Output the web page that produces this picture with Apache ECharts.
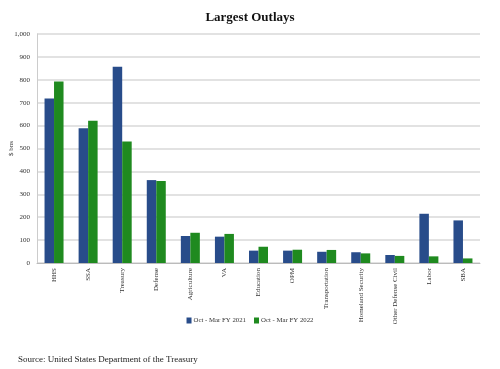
<!DOCTYPE html>
<html><head><meta charset="utf-8">
<script src="https://cdn.jsdelivr.net/npm/echarts@6/dist/echarts.min.js"></script>
<style>html,body{margin:0;padding:0;background:#fff}#c{width:500px;height:369px}</style>
</head><body><div id="c"></div>
<script>
const categories = ["HHS","SSA","Treasury","Defense","Agriculture","VA","Education","OPM","Transportation","Homeland Security","Other Defense Civil","Labor","SBA"];
const fy2021 = [718,588,857,362,118,115,54,54,49,47,35,215,186];
const fy2022 = [793,621,531,358,132,127,71,58,57,42,31,29,20];
const yTicks = [0,100,200,300,400,500,600,700,800,900,1000];
const seriesNames = ["Oct - Mar FY 2021","Oct - Mar FY 2022"];
const F = '"Liberation Serif","DejaVu Serif",serif';
const chart = echarts.init(document.getElementById('c'), null, {renderer:'canvas'});
chart.setOption({
  animation:false,
  backgroundColor:'#fff',
  title:[{text:'Largest Outlays',left:'center',top:6,textStyle:{fontFamily:F,fontSize:13,fontWeight:'bold',color:'#111'}},
         {text:'Source: United States Department of the Treasury',left:13,top:350,textStyle:{fontFamily:F,fontSize:9,fontWeight:'normal',color:'#222'}}],
  legend:{bottom:40,left:'center',itemWidth:5,itemHeight:6,itemGap:8,icon:'rect',
    textStyle:{fontFamily:F,fontSize:6.8,color:'#333',padding:[0,0,0,-3]},data:seriesNames},
  grid:{left:37,right:20,top:34,bottom:106,outerBoundsMode:'none',containLabel:false},
  xAxis:{type:'category',data:categories,
    axisLine:{lineStyle:{color:'#bbb',width:1}},axisTick:{show:false},
    axisLabel:{rotate:90,interval:0,fontFamily:F,fontSize:7,color:'#333',margin:5,align:'right'}},
  yAxis:{type:'value',min:0,max:1000,interval:100,name:'$ bns',nameLocation:'middle',nameGap:22,nameRotate:90,nameMoveOverlap:false,
    nameTextStyle:{fontFamily:F,fontSize:7,color:'#333'},
    axisLine:{show:true,lineStyle:{color:'#ccc'}},axisTick:{show:false},
    splitLine:{lineStyle:{color:'#d9d9d9',width:1.5}},
    axisLabel:{fontFamily:F,fontSize:7,color:'#333',margin:7,
      formatter:v=>yTicks.includes(v)?v.toLocaleString('en-US'):''}},
  series:[
    {name:seriesNames[0],type:'bar',data:fy2021,barWidth:9.5,barGap:'0%',itemStyle:{color:'#284c8a'}},
    {name:seriesNames[1],type:'bar',data:fy2022,barWidth:9.5,barGap:'0%',itemStyle:{color:'#1f8a1f'}}
  ]
});
</script></body></html>
